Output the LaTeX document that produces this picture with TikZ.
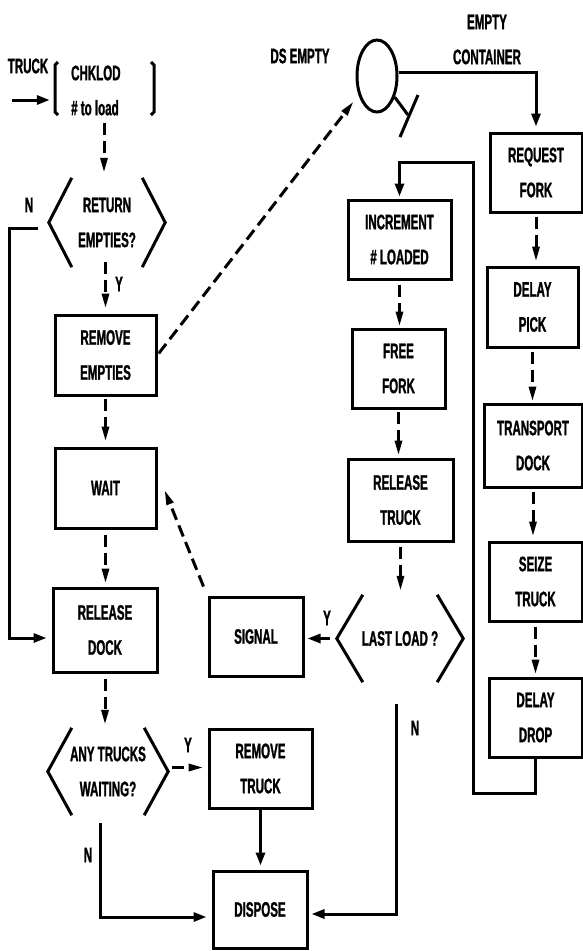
\documentclass[tikz,border=0pt]{standalone}
\usepackage{fontspec}
\setmainfont{Liberation Sans}[FakeStretch=0.55,FakeBold=1.2]
\usetikzlibrary{arrows.meta,shapes.geometric,calc}
\newcommand\hexbr[2]{%
 \draw[lnk] ([xshift=#2]#1.north west) -- (#1.west) -- ([xshift=#2]#1.south west);
 \draw[lnk] ([xshift=-#2]#1.north east) -- (#1.east) -- ([xshift=-#2]#1.south east);}
\begin{document}
\begin{tikzpicture}[x=1pt,y=-1pt,
  every node/.style={font=\bfseries\fontsize{21}{35}\selectfont, inner sep=0pt},
  box/.style={draw, line width=3pt, align=center},
  hexn/.style={align=center},
  lnk/.style={line width=3pt},
  sar/.style={line width=3pt, -{Triangle[length=13pt,width=9pt]}},
  dar/.style={line width=3pt, dash pattern=on 12pt off 6pt, -{Triangle[length=15pt,width=7pt]}},
]
\useasboundingbox (0,0) rectangle (583,951);

% left column
\node[minimum width=102, minimum height=55] (chk) at (104,87.5) {};
\node[anchor=west, align=left] (chktx) at (71,90.5) {CHKLOD\\\# to load};
\draw[lnk] (58,62) -- (55,65) -- (55,112) -- (58,115);
\draw[lnk] (151,62) -- (154,65) -- (154,112) -- (151,115);
\node (lbtruck) at (28,66) {TRUCK};

\node[hexn, minimum width=116, minimum height=89] (retq) at (107,222.5) {RETURN\\EMPTIES?};
\hexbr{retq}{23pt}
\node[box, minimum width=101, minimum height=80] (rmE) at (105.5,355) {REMOVE\\EMPTIES};
\node[box, minimum width=101, minimum height=80] (wait) at (105.5,488) {WAIT};
\node[box, minimum width=104, minimum height=84] (reldock) at (105,630) {RELEASE\\DOCK};
\node[hexn, minimum width=120, minimum height=87] (anyq) at (108,771.5) {ANY TRUCKS\\WAITING?};
\hexbr{anyq}{24pt}
\node[box, minimum width=103, minimum height=79] (rmT) at (260.5,768.5) {REMOVE\\TRUCK};
\node[box, minimum width=94, minimum height=77] (dispose) at (260,909.5) {DISPOSE};
\node[box, minimum width=94, minimum height=79] (signal) at (256,636.5) {SIGNAL};

% middle column
\node[box, minimum width=103, minimum height=79] (incr) at (399.5,239.5) {INCREMENT\\\# LOADED};
\node[box, minimum width=93, minimum height=79] (free) at (398.5,368.5) {FREE\\FORK};
\node[box, minimum width=105, minimum height=82] (reltr) at (400.5,500) {RELEASE\\TRUCK};
\node[hexn, minimum width=126, minimum height=87] (lastq) at (400,638.5) {LAST LOAD ?};
\hexbr{lastq}{26pt}

% queue
\node[draw, ellipse, line width=3pt, minimum width=40, minimum height=72] (dsq) at (377,76) {};
\draw[lnk] (dsq.-50) -- (408,115);
\draw[lnk] (418,95) -- (400,137);
\node (lbds) at (300,56) {DS EMPTY};
\node[align=center] (lbec) at (487,39.5) {EMPTY\\CONTAINER};

% right column
\node[box, minimum width=92, minimum height=79] (reqf) at (536,172.5) {REQUEST\\FORK};
\node[box, minimum width=91, minimum height=80] (dpick) at (532.5,307) {DELAY\\PICK};
\node[box, minimum width=98, minimum height=83] (trans) at (533,445.5) {TRANSPORT\\DOCK};
\node[box, minimum width=93, minimum height=79] (seize) at (535.5,581.5) {SEIZE\\TRUCK};
\node[box, minimum width=93, minimum height=79] (ddrop) at (535.5,717.5) {DELAY\\DROP};

% labels
\node (n1) at (29,205) {N};
\node (y1) at (119,284) {Y};
\node (y2) at (188,745) {Y};
\node (n2) at (88,855) {N};
\node (y3) at (327,618) {Y};
\node (n3) at (415,728) {N};

% connectors
\coordinate (truckin) at (12,100);
\draw[sar, shorten >=3pt] (truckin) -- (truckin -| chk.west);
\draw[dar, shorten <=8pt, shorten >=5pt] (chk.south) -- (chk.south |- retq.north);
\draw[dar, shorten >=5pt] ($(rmE.north |- retq.south)+(0,-5)$) -- (rmE.north);
\draw[sar, shorten >=5pt] ($(retq.west)+(-11,5.5)$) -- ($(retq.west)+(-39,5.5)$) |- ($(reldock.west)+(0,8)$);
\draw[dar, shorten <=2pt, shorten >=5pt] (rmE.south) -- (wait.north);
\draw[dar, shorten <=2pt, shorten >=8pt] (rmE.east) -- (dsq.226);
\draw[dar, shorten <=5pt, shorten >=3pt] (wait.south) -- (wait.south |- reldock.north);
\draw[dar, shorten <=5pt, shorten >=3pt] (reldock.south) -- (reldock.south |- anyq.north);
\draw[dar, shorten <=4pt, shorten >=4pt] ($(anyq.east)+(0,-4)$) -- ($(anyq.east -| rmT.west)+(0,-4)$);
\draw[sar, shorten >=5pt] ($(anyq.south)+(-8,8)$) |- ($(dispose.west)+(0,7.5)$);
\draw[sar, shorten >=4pt] (rmT.south) -- (rmT.south |- dispose.north);
\draw[dar] ($(signal.north west)+(-4,-9)$) -- ($(wait.east)+(7,2)$);
\draw[sar, shorten <=7pt, shorten >=3pt] (lastq.west) -- (lastq.west -| signal.east);
\draw[sar, shorten >=3pt] ($(lastq.south)+(-4,22)$) |- ($(dispose.east)+(0,4.5)$);
\draw[dar, shorten <=4pt, shorten >=4pt] (reltr.south) -- (reltr.south |- lastq.north);
\draw[dar, shorten <=4pt, shorten >=1pt] (incr.south) -- (incr.south |- free.north);
\draw[dar, shorten <=2pt, shorten >=2pt] (free.south) -- (free.south |- reltr.north);
\coordinate (lp1) at (473,793);
\coordinate (lp2) at (473,162);
\draw[sar, shorten >=2pt] (ddrop.south) |- (lp1) -- (lp2) -| (incr.north);
\draw[sar, shorten >=5pt] ($(dsq.east)+(0,-4)$) -| (reqf.north);
\draw[dar, shorten <=3pt, shorten >=4pt] (reqf.south) -- (reqf.south |- dpick.north);
\draw[dar, shorten <=3pt, shorten >=1pt] (dpick.south) -- (dpick.south |- trans.north);
\draw[dar, shorten <=3pt, shorten >=4pt] (trans.south) -- (trans.south |- seize.north);
\draw[dar, shorten <=4pt, shorten >=2pt] (seize.south) -- (seize.south |- ddrop.north);
\end{tikzpicture}
\end{document}
